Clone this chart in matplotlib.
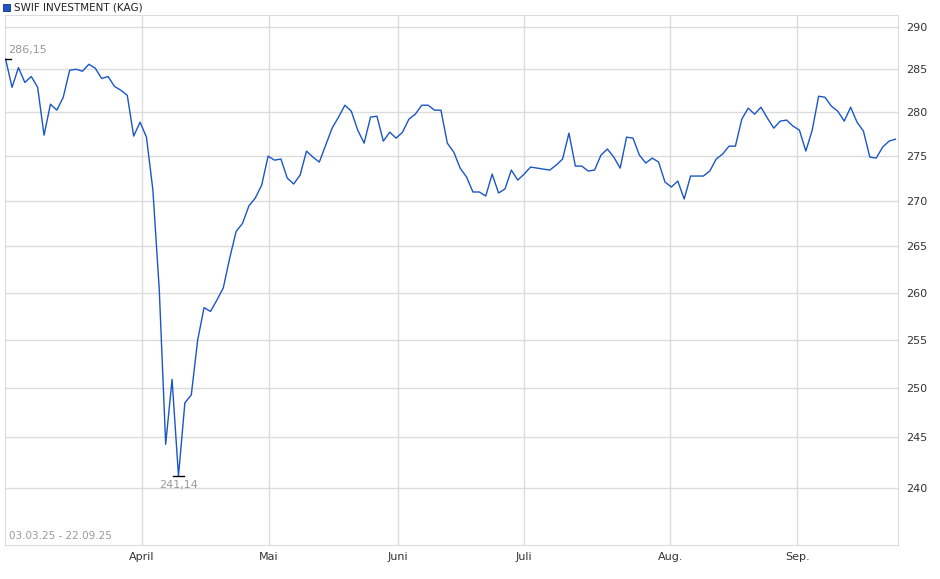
import numpy as np
import matplotlib.pyplot as plt
from matplotlib.ticker import FixedLocator, NullLocator, FixedFormatter

# daily values 03.03.25 - 22.09.25
prices = [
    286.15, 282.87, 285.17, 283.44, 284.13, 282.87, 277.37, 280.92, 280.23, 281.72,
    284.86, 284.98, 284.75, 285.56, 285.10, 283.90, 284.13, 282.98, 282.53, 281.95,
    277.26, 278.85, 277.14, 271.19, 260.30, 244.30, 250.90, 241.14, 248.50, 249.30,
    255.00, 258.40, 258.00, 259.20, 260.50, 263.70, 266.60, 267.50, 269.42, 270.30,
    271.74, 274.99, 274.54, 274.66, 272.52, 271.86, 272.86, 275.56, 274.88, 274.32,
    276.23, 278.17, 279.43, 280.80, 280.11, 277.94, 276.46, 279.43, 279.54, 276.69,
    277.71, 277.03, 277.71, 279.20, 279.77, 280.80, 280.80, 280.23, 280.23, 276.46,
    275.45, 273.64, 272.64, 270.97, 270.97, 270.52, 272.97, 270.86, 271.30, 273.42,
    272.30, 272.97, 273.76, 273.64, 273.53, 273.42, 273.98, 274.66, 277.60, 273.87,
    273.87, 273.31, 273.42, 275.11, 275.79, 274.88, 273.64, 277.14, 277.03, 275.11,
    274.21, 274.77, 274.32, 272.08, 271.52, 272.19, 270.19, 272.75, 272.75, 272.75,
    273.31, 274.66, 275.22, 276.12, 276.12, 279.20, 280.46, 279.77, 280.57, 279.31,
    278.17, 278.97, 279.09, 278.40, 277.94, 275.56, 277.94, 281.84, 281.72, 280.69,
    280.11, 278.97, 280.57, 278.85, 277.83, 274.88, 274.77, 276.01, 276.69, 276.91,
]
months = ["April", "Mai", "Juni", "Juli", "Aug.", "Sep."]
month_frac = [0.1528, 0.2955, 0.4404, 0.5820, 0.7472, 0.8899]  # share of date range
y_ticks = [240, 245, 250, 255, 260, 265, 270, 275, 280, 285, 290]

n = len(prices)
x = np.arange(n)
grid_c = "#dcdcdc"

fig = plt.figure(figsize=(9.4, 5.79), dpi=100)
ax = fig.add_axes([5 / 940, 1 - 545 / 579, 893 / 940, 530 / 579])
ax.plot(x, prices, color="#1a56c4", lw=1.0, zorder=3)

ax.set_yscale("log")
ax.set_ylim(234.4, 291.4)
ax.set_xlim(-0.1, (n - 1) + 0.4)
ax.yaxis.set_major_locator(FixedLocator(y_ticks))
ax.yaxis.set_major_formatter(FixedFormatter([str(v) for v in y_ticks]))
ax.yaxis.set_minor_locator(NullLocator())
ax.yaxis.tick_right()
ax.tick_params(axis="y", length=0, labelsize=8, colors="#333333", pad=6)

month_pos = [f * (n - 1) for f in month_frac]
ax.xaxis.set_major_locator(FixedLocator(month_pos))
ax.xaxis.set_major_formatter(FixedFormatter(months))
ax.tick_params(axis="x", length=0, labelsize=8, colors="#333333", pad=5)
ax.grid(True, color=grid_c, lw=1.0, zorder=0)
for s in ax.spines.values():
    s.set_color(grid_c)

# max / min markers
i_max = int(np.argmax(prices))
i_min = int(np.argmin(prices))
ax.plot([i_max - 0.8, i_max + 0.8], [prices[i_max]] * 2, color="black", lw=1, zorder=4)
ax.plot([i_min - 0.8, i_min + 0.8], [prices[i_min]] * 2, color="black", lw=1, zorder=4)
ax.annotate(f"{prices[i_max]:.2f}".replace(".", ","), (i_max, prices[i_max]),
            xytext=(2, 3), textcoords="offset points", fontsize=8, color="#999999", va="bottom")
ax.annotate(f"{prices[i_min]:.2f}".replace(".", ","), (i_min, prices[i_min]),
            xytext=(0, -3), textcoords="offset points", fontsize=8, color="#999999",
            va="top", ha="center")

ax.text(0.004, 0.008, "03.03.25 - 22.09.25", transform=ax.transAxes,
        fontsize=7.5, color="#999999", va="bottom")

# legend above the plot
fig.patches.append(plt.Rectangle((3 / 940, 1 - 11 / 579), 7 / 940, 7 / 579,
                                 transform=fig.transFigure, facecolor="#1a56c4",
                                 edgecolor="#0d2f7a", lw=0.6))
fig.text(14 / 940, 1 - 7 / 579, "SWIF INVESTMENT (KAG)", fontsize=7.5,
         color="#222222", va="center")

fig.savefig("out.png", dpi=100)
